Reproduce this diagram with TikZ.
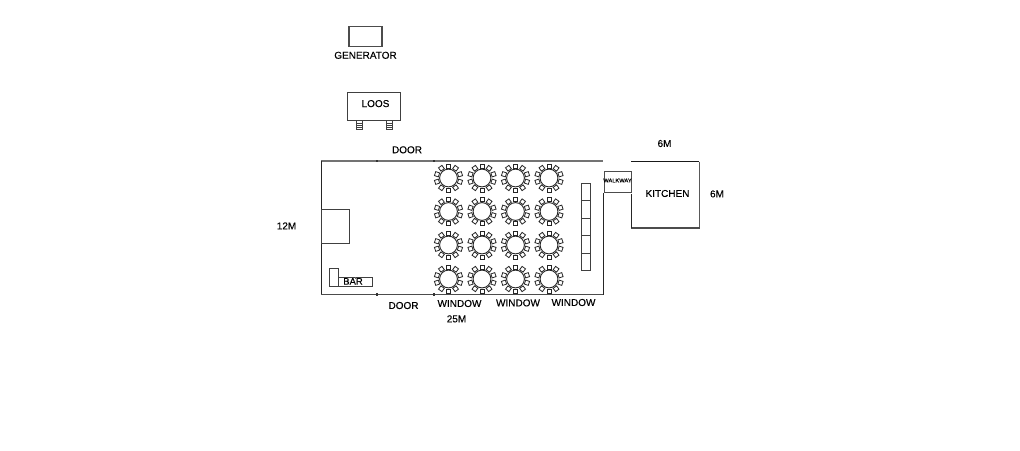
\documentclass[tikz,border=0pt]{standalone}
\usepackage{fontspec}
\setmainfont[FakeBold=0.25]{Liberation Sans}
\tikzset{
  label text/.style={inner sep=0pt,font=\fontsize{10}{12}\selectfont,text=black},
  thin box/.style={draw=black!75,line width=0.8pt},
  wall/.style={draw=black!55,line width=1.8pt},
  dark wall/.style={draw=black!70,line width=1.9pt},
  seat/.style={draw=black!85,line width=0.8pt,fill=white},
  tabletop/.style={draw=black!85,line width=0.9pt}
}
\newcommand{\banquet}[2]{%
  \foreach \a in {18,54,90,126,162,198,234,270,306,342}{%
    \draw[seat,rotate around={\a:(#1,#2)}] ([shift={(10,-2.1)}]#1,#2) rectangle ([shift={(14.1,2.1)}]#1,#2);
  }
  \draw[tabletop] (#1,#2) circle (8.9);
}
\begin{document}
\begin{tikzpicture}[x=1pt,y=-1pt]
\useasboundingbox (0,0) rectangle (1020,450);
\fill[white] (0,0) rectangle (1020,450);
% generator
\draw[draw=black!70,line width=1.5pt] (349,26.5) rectangle (382,46.5);
\node[label text] (gen) at (365.5,55.3) {GENERATOR};
% loos
\draw[thin box] (347.5,92.5) rectangle (400,120.5);
\node[label text] (loos) at (375.5,103.6) {LOOS};
\foreach \x in {356,386}{
  \draw[thin box] (\x,120.5) rectangle (\x+6.5,129.5);
  \foreach \y in {123,125.3,127.5}{\draw[draw=black!75,line width=0.5pt] (\x,\y) -- (\x+6.5,\y);}
}
% hall
\draw[wall] (321,161) -- (603,161);
\draw[draw=black!85,line width=1pt] (321,160.5) -- (321,294.5);
\draw[dark wall] (321,294.5) -- (603,294.5);
\draw[draw=black!85,line width=1pt] (603,193) -- (603,294.5);
\foreach \x in {377,434}{
  \fill[black!80] (\x-0.7,159.8) rectangle (\x+0.7,162.4);
  \fill[black!80] (\x-0.7,293.4) rectangle (\x+0.7,296.2);
}
% stage block
\draw[thin box] (321,209.5) rectangle (349.5,243.5);
% bar
\draw[thin box] (329.5,268.5) rectangle (338,286);
\draw[thin box] (338,277) rectangle (372.5,286);
\draw[draw=black!60,line width=0.5pt] (355,277) -- (355,278.5);
\node[label text,font=\fontsize{9.5}{11}\selectfont] (bar) at (353,281.4) {BAR};
% tables
\foreach \x in {448.5,482,515.5,549}{
  \foreach \y in {178,211.5,245,279}{\banquet{\x}{\y}}
}
% buffet
\foreach \y/\yy in {183/200.7,200.7/218,218/235.5,235.5/253,253/270}{
  \draw[thin box] (581.5,\y) rectangle (590,\yy);
}
% walkway
\draw[draw=black!70,line width=0.9pt] (604,171.5) rectangle (631.5,192.5);
\node[label text,font=\fontsize{5.7}{7}\selectfont] (walk) at (617.5,180.5) {WALKWAY};
% kitchen
\draw[draw=black!90,line width=1pt] (631,161.5) -- (699,161.5);
\draw[draw=black!65,line width=1pt] (699,161.5) -- (699,228);
\draw[dark wall] (631,228) -- (699.5,228);
\draw[draw=black!85,line width=1pt] (631.5,194) -- (631.5,228);
\node[label text] (kit) at (667.5,193.5) {KITCHEN};
% labels
\node[label text] (door1) at (407,149.8) {DOOR};
\node[label text] (door2) at (403.5,305.5) {DOOR};
\node[label text] (w1) at (459.5,303.5) {WINDOW};
\node[label text] (w2) at (518,302.9) {WINDOW};
\node[label text] (w3) at (573.5,302.5) {WINDOW};
\node[label text] (l25) at (456.5,318.9) {25M};
\node[label text] (l12) at (286.5,225.9) {12M};
\node[label text] (l6a) at (664.5,143.5) {6M};
\node[label text] (l6b) at (717,193.9) {6M};
\end{tikzpicture}
\end{document}
